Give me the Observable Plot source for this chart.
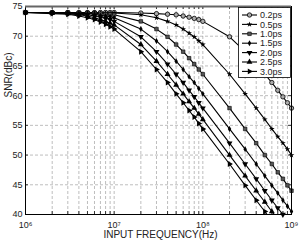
<!DOCTYPE html>
<html><head><meta charset="utf-8">
<script src="https://cdn.jsdelivr.net/npm/d3@7"></script>
<script src="https://cdn.jsdelivr.net/npm/@observablehq/plot@0.6"></script>
<style>body{margin:0;background:#fff;} #chart{width:300px;height:240px;}</style>
</head><body><div id="chart"></div>
<script>
const freqs = [1e6,2e6,3e6,4e6,5e6,6e6,7e6,8e6,9e6,
               1e7,2e7,3e7,4e7,5e7,6e7,7e7,8e7,9e7,
               1e8,2e8,3e8,4e8,5e8,6e8,7e8,8e8,9e8,1e9];
const seriesLabels = ["0.2ps","0.5ps","1.0ps","1.5ps","2.0ps","2.5ps","3.0ps"];
const snr02 = [74.0,74.0,74.0,74.0,74.0,74.0,74.0,74.0,74.0, 74.0,73.9,73.8,73.7,73.6,73.4,73.2,73.0,72.8, 72.5,69.9,67.4,65.3,63.6,62.2,60.9,59.8,58.8,57.9];
const snr05 = [74.0,74.0,74.0,74.0,74.0,74.0,73.9,73.9,73.9, 73.9,73.6,73.1,72.5,71.9,71.2,70.5,69.9,69.2, 68.6,63.6,60.3,57.9,56.0,54.4,53.1,52.0,51.0,50.0];
const snr10 = [74.0,74.0,74.0,73.9,73.9,73.8,73.8,73.7,73.7, 73.6,72.5,71.2,69.9,68.6,67.4,66.3,65.3,64.4, 63.6,57.9,54.4,52.0,50.0,48.5,47.1,46.0,44.9,44.0];
const snr15 = [74.0,74.0,73.9,73.8,73.8,73.7,73.5,73.4,73.3, 73.1,71.2,69.2,67.4,65.8,64.4,63.2,62.2,61.2, 60.3,54.4,51.0,48.5,46.5,44.9,43.6,42.4,41.4,40.5];
const snr20 = [74.0,73.9,73.8,73.7,73.6,73.4,73.2,73.0,72.8, 72.5,69.9,67.4,65.3,63.6,62.2,60.9,59.8,58.8, 57.9,52.0,48.5,46.0,44.0,42.4,41.1,40.0,38.9,38.0];
const snr25 = [74.0,73.9,73.8,73.6,73.4,73.1,72.8,72.5,72.2, 71.9,68.6,65.8,63.6,61.8,60.3,59.0,57.9,56.9, 56.0,50.0,46.5,44.0,42.1,40.5,39.2,38.0,37.0,36.0];
const snr30 = [74.0,73.8,73.7,73.4,73.1,72.8,72.4,72.0,71.6, 71.2,67.4,64.4,62.2,60.3,58.8,57.5,56.4,55.3, 54.4,48.5,44.9,42.4,40.5,38.9,37.6,36.4,35.4,34.5];
const xTicks = [1e6,1e7,1e8,1e9];
const xTickLabels = ["10\u2076","10\u2077","10\u2078","10\u2079"];
const yTicks = [40,45,50,55,60,65,70,75];
const yGrid = [45,50,55,60,65,70];

const allSeries = [snr02,snr05,snr10,snr15,snr20,snr25,snr30];
const rows = [];
allSeries.forEach((vals,i) => vals.forEach((v,j) => rows.push({f:freqs[j], snr:v, s:seriesLabels[i]})));

const triDown = {draw(ctx,size){const k=Math.sqrt(size/1.299);ctx.moveTo(0,k);ctx.lineTo(-k*0.866,-k*0.5);ctx.lineTo(k*0.866,-k*0.5);ctx.closePath();}};
const triUp = {draw(ctx,size){const k=Math.sqrt(size/1.299);ctx.moveTo(0,-k);ctx.lineTo(-k*0.866,k*0.5);ctx.lineTo(k*0.866,k*0.5);ctx.closePath();}};
const triRight = {draw(ctx,size){const k=Math.sqrt(size/1.299);ctx.moveTo(k,0);ctx.lineTo(-k*0.5,-k*0.866);ctx.lineTo(-k*0.5,k*0.866);ctx.closePath();}};
const markerStyles = [
  {symbol:"circle", r:2.2, fill:"#aaa", stroke:"black", strokeWidth:0.8},
  {symbol:"star", r:1.8, fill:"black", stroke:"none"},
  {symbol:"square", r:2.0, fill:"#555", stroke:"black", strokeWidth:0.6},
  {symbol:"diamond", r:1.8, fill:"black", stroke:"none"},
  {symbol:triDown, r:2.2, fill:"black", stroke:"none"},
  {symbol:triUp, r:2.2, fill:"black", stroke:"none"},
  {symbol:triRight, r:2.2, fill:"black", stroke:"none"}
];

const dotMarks = seriesLabels.map((lab,i) => Plot.dot(rows.filter(d => d.s === lab && d.snr >= 40), {x:"f", y:"snr", ...markerStyles[i]}));

const plot = Plot.plot({
  width:300, height:240,
  marginLeft:25, marginRight:9, marginTop:6, marginBottom:26,
  style:{fontFamily:"'Liberation Sans', Arial, sans-serif", fontSize:"9px", background:"white", color:"#222", overflow:"visible"},
  x:{type:"log", domain:[1e6,1e9]},
  y:{domain:[40,75]},
  marks:[
    Plot.gridX(freqs, {stroke:"#888", strokeOpacity:0.55, strokeDasharray:"3,2"}),
    Plot.gridY(yGrid, {stroke:"#888", strokeOpacity:0.55, strokeDasharray:"3,2"}),
    Plot.ruleX(freqs, {y1:40, y2:40.5, stroke:"#333"}),
    Plot.ruleX(freqs, {y1:74.5, y2:75, stroke:"#333"}),
    Plot.ruleY(yTicks, {x1:1e6, x2:1.08e6, stroke:"#333"}),
    Plot.ruleY(yTicks, {x1:1e9/1.08, x2:1e9, stroke:"#333"}),
    Plot.line(rows, {x:"f", y:"snr", z:"s", stroke:"black", strokeWidth:1.1, clip:true}),
    ...dotMarks,
    Plot.frame({stroke:"black", strokeWidth:1}),
    Plot.ruleY([75], {stroke:"#666", strokeWidth:2}),
    Plot.axisX({ticks:xTicks, tickSize:0, tickPadding:7, tickFormat:d => xTickLabels[xTicks.findIndex(t => Math.abs(Math.log10(t) - Math.log10(d)) < 1e-6)], label:null, fontSize:9}),
    Plot.axisY({ticks:yTicks, tickSize:0, tickPadding:3, label:null, fontSize:9}),
    Plot.text(["INPUT FREQUENCY(Hz)"], {frameAnchor:"bottom", dy:23, fontSize:10, dx:2}),
    Plot.text(["SNR(dBc)"], {frameAnchor:"left", dx:-17, dy:-13, rotate:-90, fontSize:10})
  ]
});
document.getElementById("chart").appendChild(plot);

// legend inside plot
const svg = d3.select(plot);
const lg = svg.append("g");
lg.append("rect").attr("x",238.5).attr("y",7.5).attr("width",52).attr("height",70).attr("fill","white").attr("stroke","black").attr("stroke-width",0.8);
const symTypes = [d3.symbolCircle, d3.symbolStar, d3.symbolSquare, d3.symbolDiamond, triDown, triUp, triRight];
seriesLabels.forEach((lab,i) => {
  const y = 15 + i*9.4;
  lg.append("line").attr("x1",242).attr("x2",257).attr("y1",y).attr("y2",y).attr("stroke","black").attr("stroke-width",1.1);
  const ms = markerStyles[i];
  lg.append("path").attr("d", d3.symbol(symTypes[i], Math.PI*ms.r*ms.r)()).attr("transform",`translate(249.5,${y})`)
    .attr("fill", ms.fill).attr("stroke", ms.stroke).attr("stroke-width", ms.strokeWidth || 0);
  lg.append("text").attr("x",260).attr("y",y).attr("dy","0.35em").attr("font-size",9).attr("fill","#222").attr("text-anchor","start").text(lab);
});
</script></body></html>
